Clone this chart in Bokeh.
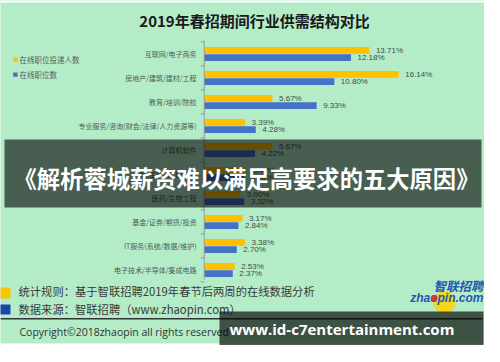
from bokeh.plotting import figure
from bokeh.models import Range1d, Label, BoxAnnotation, ColumnDataSource
from bokeh.core.properties import value
from bokeh.embed import file_html
from bokeh.resources import INLINE

# ---------------- data ----------------
title_text = "2019年春招期间行业供需结构对比"
categories = [
    "互联网/电子商务",
    "房地产/建筑/建材/工程",
    "教育/培训/院校",
    "专业服务/咨询(财会/法律/人力资源等)",
    "计算机软件",
    "汽车/生产/加工/制造",
    "医药/生物工程",
    "基金/证券/期货/投资",
    "IT服务(系统/数据/维护)",
    "电子技术/半导体/集成电路",
]
applicants = [13.71, 16.14, 5.67, 3.39, 5.67, 3.47, 3.00, 3.17, 3.38, 2.53]
postings = [12.18, 10.80, 9.33, 4.28, 4.22, 3.30, 3.32, 2.84, 2.70, 2.37]
series_names = ["在线职位投递人数", "在线职位数"]
note_rule = "统计规则：基于智联招聘2019年春节后两周的在线数据分析"
note_source = "数据来源：智联招聘（www.zhaopin.com）"
copyright_text = "Copyright©2018zhaopin all rights reserved"
banner_text = "《解析蓉城薪资难以满足高要求的五大原因》"
site_text = "www.id-c7entertainment.com"
logo_cn = "智联招聘"
logo_en = "zhaopin.com"

# ---------------- geometry ----------------
W, H = 484, 346
X0PX = 203.7      # canvas px of 0 %
SX = 12.05        # px per percent
R0PX = 53.5       # canvas px of first row centre
SY = 24.0         # px per row

def dx(rx):
    return (rx - 8 - X0PX) / SX

def dy(ry):
    return -((ry - 8) - R0PX) / SY

GREEN = "#b4ecc8"
YELLOW = "#ffc000"
BLUE = "#4472c4"
CJK = "Noto Sans CJK SC"

p = figure(width=W, height=H,
           x_range=Range1d(-X0PX / SX, (W - X0PX) / SX),
           y_range=Range1d(-(H - R0PX) / SY, R0PX / SY),
           x_axis_type=None, y_axis_type=None,
           output_backend="svg", toolbar_location=None,
           min_border=0, outline_line_color=None,
           background_fill_color=GREEN, border_fill_color=GREEN)

# white page strips top / bottom
p.add_layout(BoxAnnotation(bottom=dy(10), fill_color="white", fill_alpha=1, line_color=None, level="underlay"))
p.add_layout(BoxAnnotation(top=dy(351), fill_color="white", fill_alpha=1, line_color=None, level="underlay"))

n = len(categories)
rows = [-k for k in range(n)]
BH = 6.8 / SY
OFF = 3.6 / SY
src = ColumnDataSource(dict(
    cat=categories,
    row=rows,
    ya=[r + OFF for r in rows],
    yp=[r - OFF for r in rows],
    app=applicants,
    post=postings,
    app_t=[f"{v:.2f}%" for v in applicants],
    post_t=[f"{v:.2f}%" for v in postings],
))

p.hbar(y="ya", left=0, right="app", height=BH, source=src, fill_color=YELLOW, line_color=None)
p.hbar(y="yp", left=0, right="post", height=BH, source=src, fill_color=BLUE, line_color=None)

# value axis line and ticks
p.segment(x0=[0], y0=[0.5625], x1=[0], y1=[rows[-1] - 0.4], line_color="#8e9e96", line_width=1)
p.segment(x0=[-0.3] * (n + 1), y0=[0.5 - k for k in range(n + 1)],
          x1=[0] * (n + 1), y1=[0.5 - k for k in range(n + 1)],
          line_color="#8e9e96", line_width=1)

# category labels
p.text(x=0, y="row", text="cat", source=src, x_offset=-7.7,
       text_align="right", text_baseline="middle",
       text_font=value(CJK), text_font_size="7px", text_color="#4f5c54")

# value labels
p.text(x="app", y="ya", text="app_t", source=src, x_offset=6.5,
       text_baseline="middle", text_font=value("Liberation Sans"),
       text_font_size="8px", text_color="#3c4c44")
p.text(x="post", y="yp", text="post_t", source=src, x_offset=6.5,
       text_baseline="middle", text_font=value("Liberation Sans"),
       text_font_size="8px", text_color="#3c4c44")

# title
p.add_layout(Label(x=dx(262), y=dy(28), text=title_text, text_align="center",
                   text_baseline="middle", text_font=CJK, text_font_style="bold",
                   text_font_size="15px", text_color="#1a1a1a"))

# legend
p.add_layout(BoxAnnotation(left=dx(20.7), right=dx(25), top=dy(65), bottom=dy(69.3),
                           fill_color=YELLOW, fill_alpha=1, line_color=None))
p.add_layout(BoxAnnotation(left=dx(20.7), right=dx(25), top=dy(80), bottom=dy(84.3),
                           fill_color=BLUE, fill_alpha=1, line_color=None))
p.add_layout(Label(x=dx(27), y=dy(67.2), text=series_names[0], text_baseline="middle",
                   text_font=CJK, text_font_size="7.5px", text_color="#55605a"))
p.add_layout(Label(x=dx(27), y=dy(82.2), text=series_names[1], text_baseline="middle",
                   text_font=CJK, text_font_size="7.5px", text_color="#55605a"))

# logo
p.scatter(x=[dx(452)], y=[dy(310)], size=22, marker="circle", fill_color="#ffd200",
          fill_alpha=0.85, line_color=None)
p.add_layout(Label(x=dx(491), y=dy(293), text=logo_cn, text_align="right", text_baseline="middle",
                   text_font=CJK, text_font_style="bold italic", text_font_size="12.5px",
                   text_color="#2358b8"))
p.add_layout(Label(x=dx(491), y=dy(305), text=logo_en, text_align="right", text_baseline="middle",
                   text_font="Liberation Sans", text_font_style="bold italic", text_font_size="12px",
                   text_color="#2358b8"))
p.scatter(x=[dx(441.5)], y=[dy(305.5)], size=6, marker="circle", fill_color="#e0322a",
          line_color=None, level="overlay")

# footer notes
p.add_layout(BoxAnnotation(left=dx(7), right=dx(18), top=dy(295), bottom=dy(306),
                           fill_color="#f7c600", fill_alpha=1, line_color=None))
p.add_layout(BoxAnnotation(left=dx(7), right=dx(18), top=dy(312), bottom=dy(322),
                           fill_color="#1a47a8", fill_alpha=1, line_color=None))
p.add_layout(Label(x=dx(26), y=dy(298), text=note_rule, text_baseline="middle",
                   text_font=CJK, text_font_size="11.3px", text_color="#3a3a3a"))
p.add_layout(Label(x=dx(26), y=dy(316), text=note_source, text_baseline="middle",
                   text_font=CJK, text_font_size="11.3px", text_color="#3a3a3a"))
p.add_layout(BoxAnnotation(left=dx(8), right=dx(490), top=dy(325.6), bottom=dy(327),
                           fill_color="#333333", fill_alpha=1, line_color=None))
p.add_layout(Label(x=dx(27), y=dy(339), text=copyright_text, text_baseline="middle",
                   text_font="Open Sans", text_font_size="10.5px", text_color="#333333"))

# overlay banners
p.add_layout(BoxAnnotation(left=dx(12), right=dx(489), top=dy(147), bottom=dy(215),
                           fill_color="black", fill_alpha=0.6, line_color=None))
p.add_layout(Label(x=dx(21), y=dy(185), text=banner_text, text_baseline="middle",
                   text_font=CJK, text_font_style="bold", text_font_size="23.3px",
                   text_color="white"))
p.add_layout(BoxAnnotation(left=dx(227), right=dx(491), top=dy(319), bottom=dy(352.5),
                           fill_color="black", fill_alpha=0.66, line_color=None))
p.add_layout(Label(x=dx(237), y=dy(336), text=site_text, text_baseline="middle",
                   text_font="Open Sans", text_font_style="bold", text_font_size="15px",
                   text_color="white"))

open("out.html", "w").write(file_html(p, INLINE))
